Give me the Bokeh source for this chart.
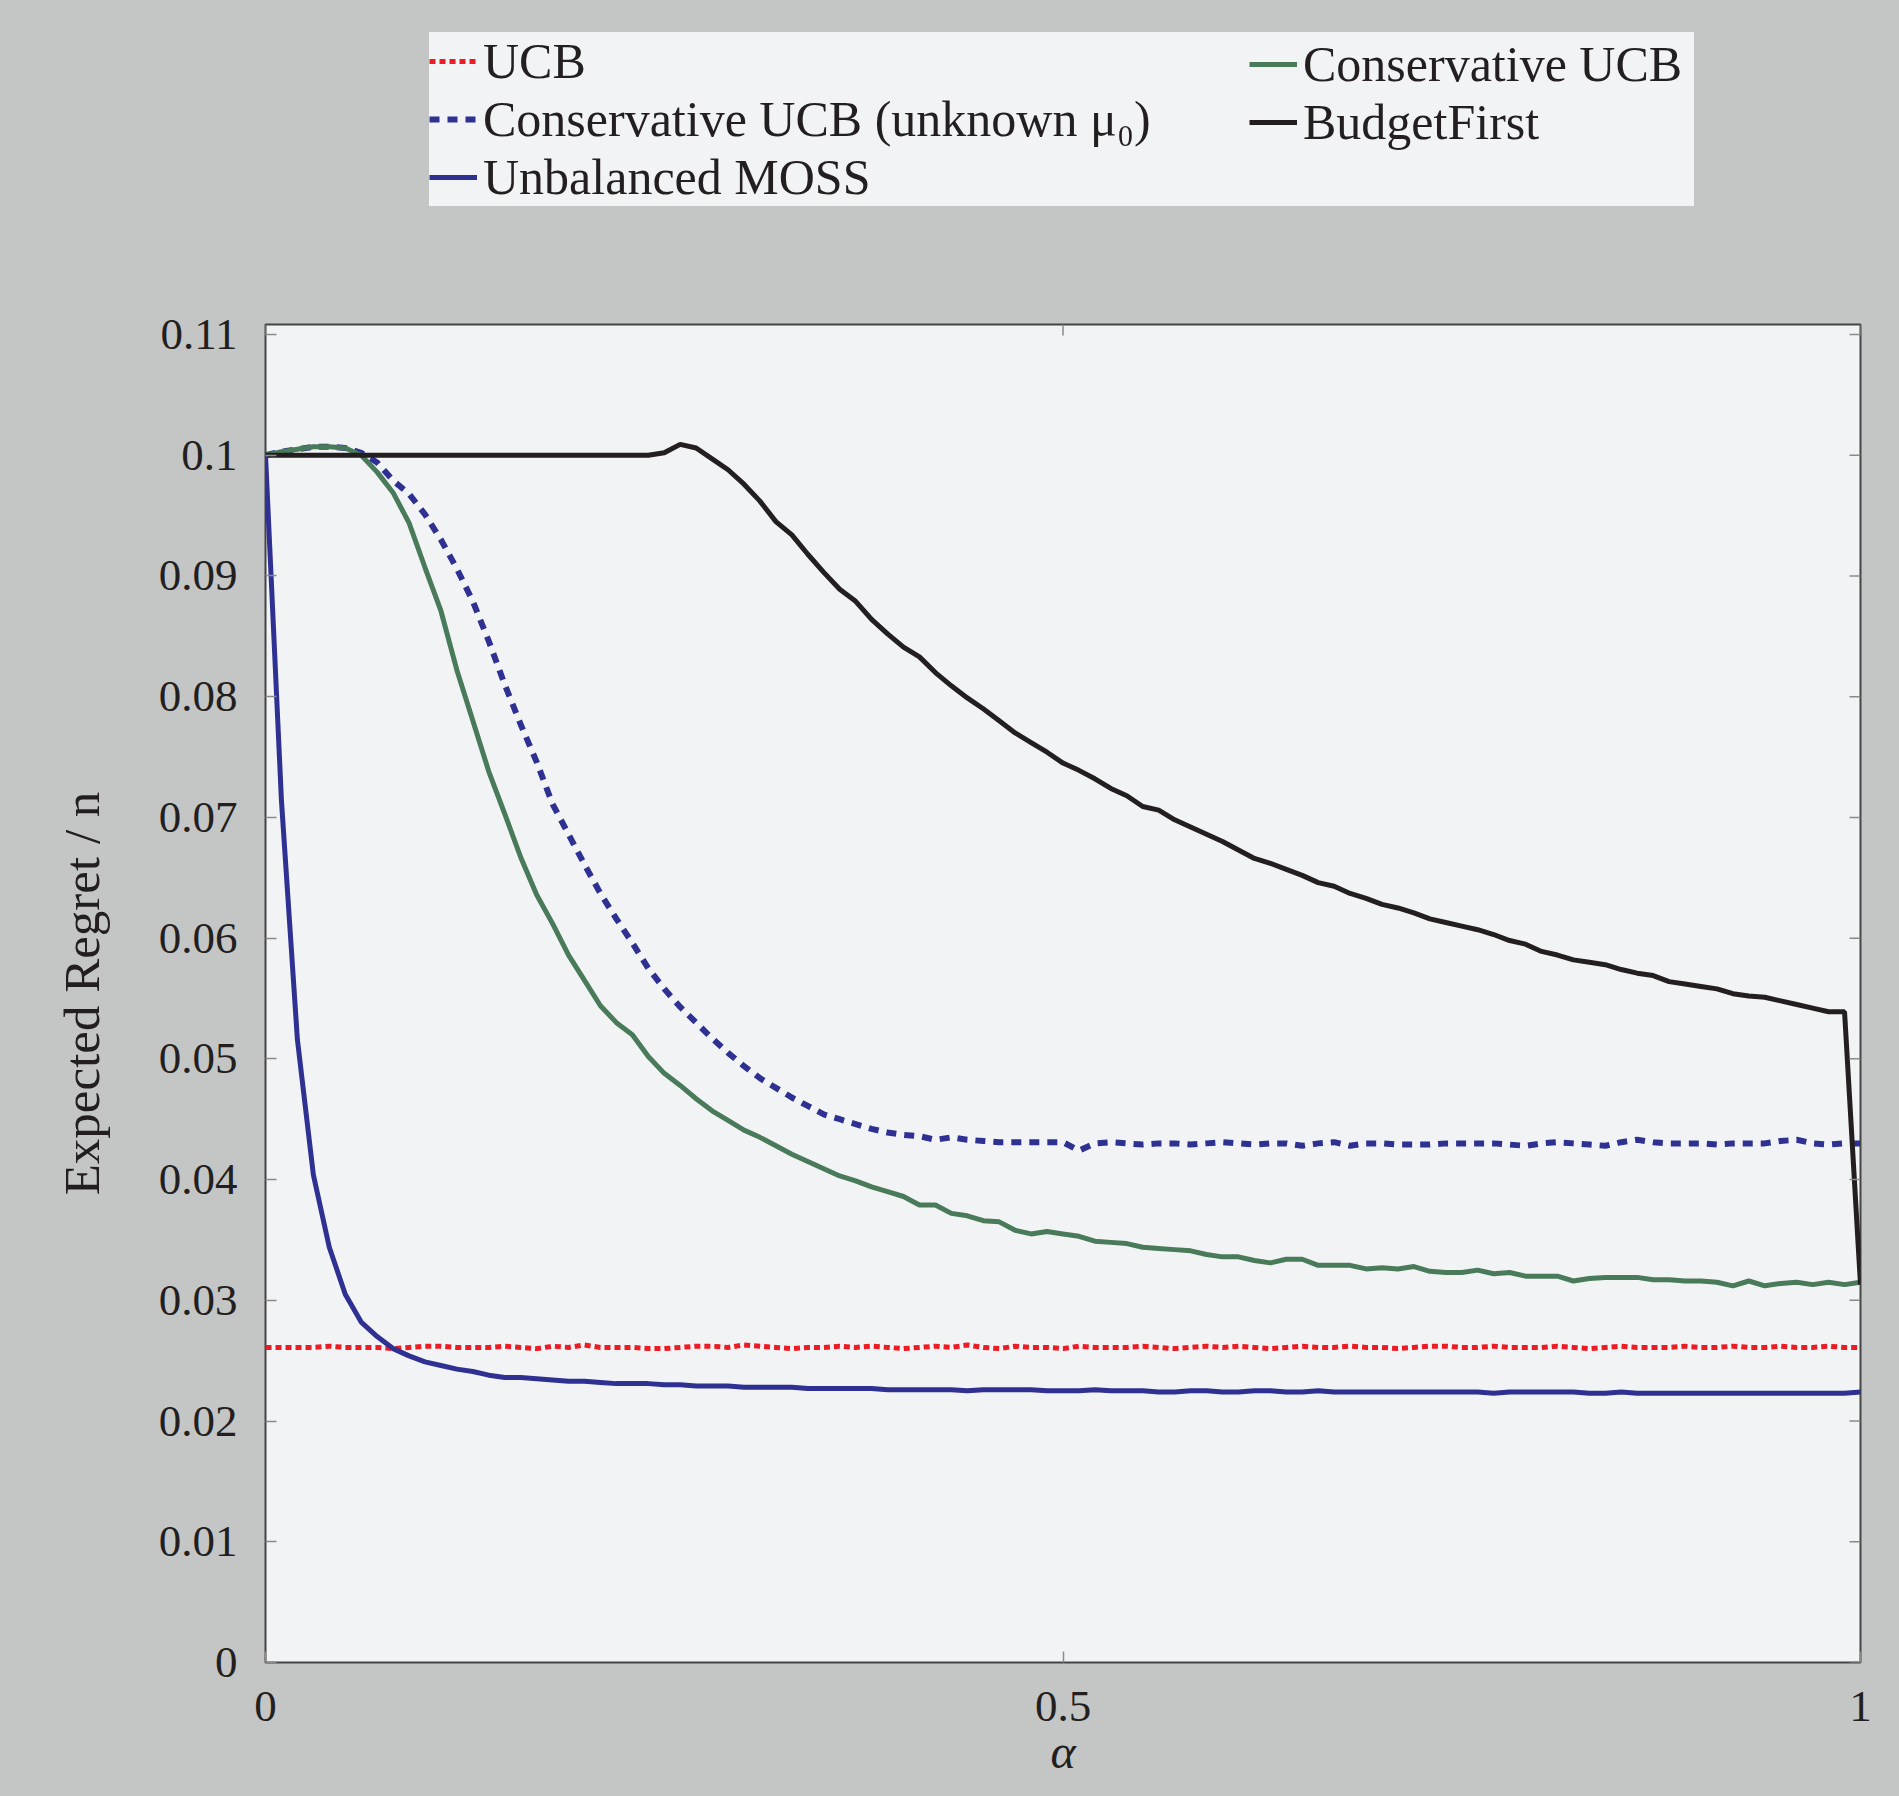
import math
from bokeh.plotting import figure
from bokeh.layouts import column
from bokeh.models import Range1d, Legend, LegendItem, FixedTicker
from bokeh.embed import file_html
from bokeh.resources import INLINE

# ---------------- data ----------------
alpha = [round(0.01 * i, 2) for i in range(101)]

ucb = [0.0261, 0.0261, 0.0261, 0.0261, 0.0262, 0.0261, 0.0261, 0.0261, 0.0260, 0.0261,
       0.0262, 0.0262, 0.0261, 0.0261, 0.0261, 0.0262, 0.0261, 0.0260, 0.0262, 0.0261,
       0.0263, 0.0261, 0.0261, 0.0261, 0.0260, 0.0260, 0.0261, 0.0262, 0.0262, 0.0261,
       0.0263, 0.0262, 0.0261, 0.0260, 0.0261, 0.0261, 0.0262, 0.0261, 0.0262, 0.0261,
       0.0260, 0.0261, 0.0262, 0.0261, 0.0263, 0.0261, 0.0260, 0.0262, 0.0261, 0.0261,
       0.0260, 0.0262, 0.0261, 0.0261, 0.0261, 0.0262, 0.0261, 0.0260, 0.0261, 0.0262,
       0.0261, 0.0262, 0.0261, 0.0260, 0.0261, 0.0262, 0.0261, 0.0261, 0.0262, 0.0261,
       0.0261, 0.0260, 0.0261, 0.0262, 0.0262, 0.0261, 0.0261, 0.0262, 0.0261, 0.0261,
       0.0261, 0.0262, 0.0261, 0.0260, 0.0261, 0.0262, 0.0261, 0.0261, 0.0261, 0.0262,
       0.0261, 0.0261, 0.0262, 0.0261, 0.0261, 0.0262, 0.0261, 0.0261, 0.0262, 0.0261,
       0.0261]

cucb = [0.1000, 0.1003, 0.1005, 0.1007, 0.1007, 0.1006, 0.1000, 0.0986, 0.0969, 0.0944,
        0.0907, 0.0871, 0.0822, 0.0780, 0.0738, 0.0703, 0.0667, 0.0636, 0.0612, 0.0586,
        0.0565, 0.0544, 0.0530, 0.0520, 0.0502, 0.0488, 0.0478, 0.0467, 0.0457, 0.0449,
        0.0441, 0.0435, 0.0428, 0.0421, 0.0415, 0.0409, 0.0403, 0.0399, 0.0394, 0.0390,
        0.0386, 0.0379, 0.0379, 0.0372, 0.0370, 0.0366, 0.0365, 0.0358, 0.0355, 0.0357,
        0.0355, 0.0353, 0.0349, 0.0348, 0.0347, 0.0344, 0.0343, 0.0342, 0.0341, 0.0338,
        0.0336, 0.0336, 0.0333, 0.0331, 0.0334, 0.0334, 0.0329, 0.0329, 0.0329, 0.0326,
        0.0327, 0.0326, 0.0328, 0.0324, 0.0323, 0.0323, 0.0325, 0.0322, 0.0323, 0.0320,
        0.0320, 0.0320, 0.0316, 0.0318, 0.0319, 0.0319, 0.0319, 0.0317, 0.0317, 0.0316,
        0.0316, 0.0315, 0.0312, 0.0316, 0.0312, 0.0314, 0.0315, 0.0313, 0.0315, 0.0313,
        0.0315]

cucb_unknown = [0.1000, 0.1003, 0.1005, 0.1007, 0.1007, 0.1006, 0.1002, 0.0994, 0.0979, 0.0968,
                0.0951, 0.0930, 0.0906, 0.0879, 0.0846, 0.0810, 0.0777, 0.0746, 0.0711, 0.0686,
                0.0661, 0.0637, 0.0616, 0.0596, 0.0575, 0.0558, 0.0543, 0.0530, 0.0517, 0.0505,
                0.0494, 0.0484, 0.0476, 0.0468, 0.0461, 0.0454, 0.0450, 0.0446, 0.0442, 0.0439,
                0.0437, 0.0436, 0.0433, 0.0435, 0.0433, 0.0432, 0.0431, 0.0431, 0.0431, 0.0431,
                0.0431, 0.0424, 0.0430, 0.0431, 0.0430, 0.0429, 0.0430, 0.0430, 0.0429, 0.0430,
                0.0431, 0.0430, 0.0429, 0.0430, 0.0430, 0.0428, 0.0430, 0.0431, 0.0428, 0.0430,
                0.0430, 0.0429, 0.0429, 0.0429, 0.0430, 0.0430, 0.0430, 0.0430, 0.0429, 0.0428,
                0.0430, 0.0431, 0.0430, 0.0429, 0.0428, 0.0431, 0.0433, 0.0431, 0.0430, 0.0430,
                0.0430, 0.0429, 0.0430, 0.0430, 0.0430, 0.0432, 0.0433, 0.0430, 0.0429, 0.0430,
                0.0430]

budget_first = [0.1000] * 25 + [
                0.1002, 0.1009, 0.1006, 0.0997, 0.0988,
                0.0976, 0.0962, 0.0945, 0.0934, 0.0918, 0.0903, 0.0889, 0.0879, 0.0864, 0.0852,
                0.0841, 0.0833, 0.0820, 0.0809, 0.0799, 0.0790, 0.0780, 0.0770, 0.0762, 0.0754,
                0.0745, 0.0739, 0.0732, 0.0724, 0.0718, 0.0709, 0.0706, 0.0698, 0.0692, 0.0686,
                0.0680, 0.0673, 0.0666, 0.0662, 0.0657, 0.0652, 0.0646, 0.0643, 0.0637, 0.0633,
                0.0628, 0.0625, 0.0621, 0.0616, 0.0613, 0.0610, 0.0607, 0.0603, 0.0598, 0.0595,
                0.0589, 0.0586, 0.0582, 0.0580, 0.0578, 0.0574, 0.0571, 0.0569, 0.0564, 0.0562,
                0.0560, 0.0558, 0.0554, 0.0552, 0.0551, 0.0548, 0.0545, 0.0542, 0.0539, 0.0539,
                0.0313]

moss = [0.1000, 0.0714, 0.0516, 0.0404, 0.0344, 0.0305, 0.0282, 0.0270, 0.0260, 0.0254,
        0.0249, 0.0246, 0.0243, 0.0241, 0.0238, 0.0236, 0.0236, 0.0235, 0.0234, 0.0233,
        0.0233, 0.0232, 0.0231, 0.0231, 0.0231, 0.0230, 0.0230, 0.0229, 0.0229, 0.0229,
        0.0228, 0.0228, 0.0228, 0.0228, 0.0227, 0.0227, 0.0227, 0.0227, 0.0227, 0.0226,
        0.0226, 0.0226, 0.0226, 0.0226, 0.0225, 0.0226, 0.0226, 0.0226, 0.0226, 0.0225,
        0.0225, 0.0225, 0.0226, 0.0225, 0.0225, 0.0225, 0.0224, 0.0224, 0.0225, 0.0225,
        0.0224, 0.0224, 0.0225, 0.0225, 0.0224, 0.0224, 0.0225, 0.0224, 0.0224, 0.0224,
        0.0224, 0.0224, 0.0224, 0.0224, 0.0224, 0.0224, 0.0224, 0.0223, 0.0224, 0.0224,
        0.0224, 0.0224, 0.0224, 0.0223, 0.0223, 0.0224, 0.0223, 0.0223, 0.0223, 0.0223,
        0.0223, 0.0223, 0.0223, 0.0223, 0.0223, 0.0223, 0.0223, 0.0223, 0.0223, 0.0223,
        0.0224]

series_labels = ["UCB", "Conservative UCB (unknown \u03bc\u2080)", "Unbalanced MOSS",
                 "Conservative UCB", "BudgetFirst"]

x_ticks = [0, 0.5, 1]
x_tick_labels = ["0", "0.5", "1"]
y_ticks = [0, 0.01, 0.02, 0.03, 0.04, 0.05, 0.06, 0.07, 0.08, 0.09, 0.1, 0.11]
y_tick_labels = ["0", "0.01", "0.02", "0.03", "0.04", "0.05", "0.06", "0.07",
                 "0.08", "0.09", "0.1", "0.11"]
x_min, x_max = 0, 1
y_min, y_max = 0, 0.11083

# ---------------- style ----------------
FONT = "Liberation Serif"
TXT = "#231f20"
BG_OUT = "#c4c6c5"
BG_IN = "#f2f3f5"
TICK = "#8a8a8a"

styles = {
    "ucb": dict(line_color="#ed1c24", line_width=5, line_dash="6 4"),
    "unk": dict(line_color="#2e3192", line_width=6, line_dash="10 8"),
    "cucb": dict(line_color="#497a5a", line_width=5),
    "bf": dict(line_color="#231f20", line_width=5),
    "moss": dict(line_color="#2e3192", line_width=5),
}

# ---------------- main plot ----------------
p = figure(width=1899, height=1536, output_backend="svg", toolbar_location=None,
           x_range=Range1d(x_min, x_max), y_range=Range1d(y_min, y_max),
           min_border_left=265, min_border_right=39, min_border_top=64,
           min_border_bottom=134)
p.border_fill_color = BG_OUT
p.background_fill_color = BG_IN
p.outline_line_color = "#444444"
p.outline_line_width = 2
p.grid.visible = False

p.line(alpha, ucb, **styles["ucb"])
p.line(alpha, cucb_unknown, **styles["unk"])
p.line(alpha, cucb, **styles["cucb"])
p.line(alpha, budget_first, **styles["bf"])
p.line(alpha, moss, **styles["moss"])

# mirrored inward ticks on the right and top edges
p.ray(x=[x_max] * len(y_ticks), y=y_ticks, length=11, length_units="screen",
      angle=math.pi, line_color=TICK, line_width=1.5)
p.ray(x=x_ticks, y=[y_max] * len(x_ticks), length=11, length_units="screen",
      angle=-math.pi / 2, line_color=TICK, line_width=1.5)


def style_axis(ax, ticks, labels):
    ax.ticker = FixedTicker(ticks=ticks)
    ax.major_label_overrides = {t: l for t, l in zip(ticks, labels)}
    ax.axis_line_color = None
    ax.major_tick_in = 11
    ax.major_tick_out = 0
    ax.major_tick_line_color = TICK
    ax.major_tick_line_width = 1.5
    ax.minor_tick_line_color = None
    ax.major_label_text_font = FONT
    ax.major_label_text_color = TXT
    ax.major_label_text_font_size = "45px"


xa = p.xaxis[0]
style_axis(xa, x_ticks, x_tick_labels)
xa.major_label_standoff = 29
xa.axis_label = "\u03b1"
xa.axis_label_text_font = FONT
xa.axis_label_text_font_style = "italic"
xa.axis_label_text_font_size = "48px"
xa.axis_label_text_color = TXT
xa.axis_label_standoff = 1

ya = p.yaxis[0]
style_axis(ya, y_ticks, y_tick_labels)
ya.major_label_standoff = 28
ya.axis_label = "Expected Regret / n"
ya.axis_label_text_font = FONT
ya.axis_label_text_font_style = "normal"
ya.axis_label_text_font_size = "51px"
ya.axis_label_text_color = TXT
ya.axis_label_standoff = 46

# ---------------- legend strip ----------------
lg = figure(width=1899, height=260, output_backend="svg", toolbar_location=None,
            x_range=Range1d(0, 1), y_range=Range1d(0, 1),
            x_axis_type=None, y_axis_type=None, min_border=0)
lg.border_fill_color = BG_OUT
lg.background_fill_color = BG_OUT
lg.outline_line_color = None
lg.grid.visible = False

nan = [float("nan")]
d_ucb = lg.line(nan, nan, **styles["ucb"])
d_unk = lg.line(nan, nan, **styles["unk"])
d_moss = lg.line(nan, nan, **styles["moss"])
d_cucb = lg.line(nan, nan, **styles["cucb"])
d_bf = lg.line(nan, nan, **styles["bf"])

common = dict(label_text_font=FONT, label_text_font_size="50px", label_text_color=TXT,
              border_line_color=None, glyph_width=48, glyph_height=20,
              label_standoff=6, label_height=49, spacing=0, padding=6, margin=0)

# first column (its box spans the whole legend area)
legend_a = Legend(items=[LegendItem(label=series_labels[0], renderers=[d_ucb]),
                         LegendItem(label=series_labels[1], renderers=[d_unk]),
                         LegendItem(label=series_labels[2], renderers=[d_moss])],
                  location=(164, 54), label_width=1211,
                  background_fill_color=BG_IN, background_fill_alpha=1.0, **common)
# second column, drawn over the first box
legend_b = Legend(items=[LegendItem(label=series_labels[3], renderers=[d_cucb]),
                         LegendItem(label=series_labels[4], renderers=[d_bf])],
                  location=(984, 109),
                  background_fill_alpha=0.0, **common)
lg.add_layout(legend_a, "center")
lg.add_layout(legend_b, "center")

layout = column(lg, p, spacing=0)

tpl = """
{% block preamble %}<style>html, body { margin: 0; padding: 0; overflow: hidden; background: #c4c6c5; }</style>{% endblock %}
"""
try:
    html = file_html(layout, INLINE, template=tpl)
except Exception:
    html = file_html(layout, INLINE)
open("out.html", "w").write(html)
